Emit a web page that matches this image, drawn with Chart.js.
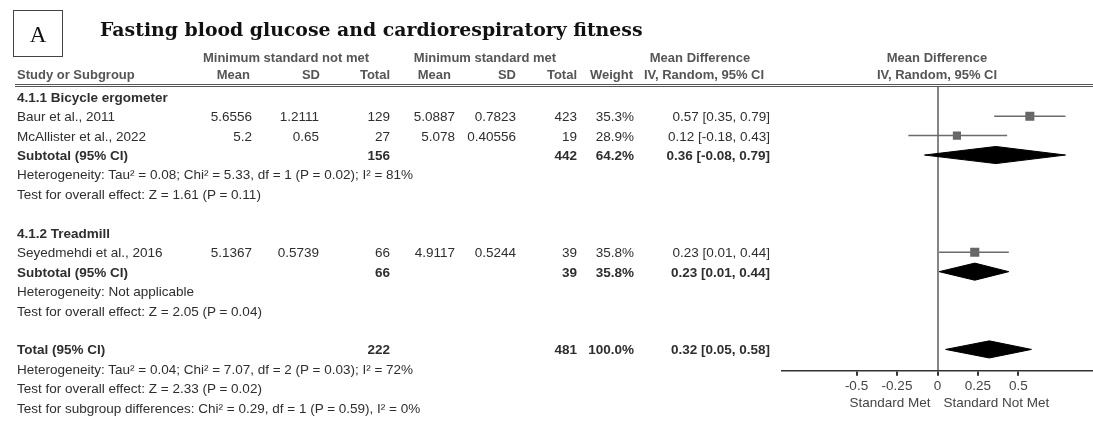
<!DOCTYPE html>
<html>
<head>
<meta charset="utf-8">
<script src="https://cdn.jsdelivr.net/npm/chart.js@4.4.0/dist/chart.umd.min.js"></script>
<style>
  html, body { margin: 0; padding: 0; background: #fff; }
  #wrap { position: relative; width: 1093px; height: 424px; overflow: hidden;
          font-family: "Liberation Sans", Arial, sans-serif; font-size: 13.5px; color: #2e2e2e; }
  #forest { position: absolute; left: 0; top: 0; }
  .t { position: absolute; white-space: nowrap; line-height: 15px; transform: translateY(-50%); }
  .r { transform: translate(-100%, -50%); }
  .c { transform: translate(-50%, -50%); }
  .b { font-weight: bold; }
  .h { font-weight: bold; color: #555; font-size: 13px; }
  #panel { position: absolute; left: 13px; top: 10px; width: 48px; height: 45px; border: 1px solid #444;
           font-family: "Liberation Serif", serif; font-size: 23px; text-align: center; line-height: 47px; color: #111; }
  #title { position: absolute; left: 100px; top: 20px; font-family: "DejaVu Serif", serif; font-weight: bold;
           white-space: nowrap; color: #111; line-height: 1; }
  #rule { position: absolute; left: 15px; right: 0; top: 84px; height: 0; border-top: 3px double #555; }
</style>
</head>
<body>
<div id="wrap">
  <canvas id="forest" width="1093" height="424"></canvas>
  <div id="panel">A</div>
  <div id="title">Fasting blood glucose and cardiorespiratory fitness</div>
  <div id="rule"></div>
</div>
<script>
// studies
const studies = ['Baur et al., 2011', 'McAllister et al., 2022', 'Seyedmehdi et al., 2016'];
const meanNotMet = [5.6556, 5.2, 5.1367];
const sdNotMet = [1.2111, 0.65, 0.5739];
const totalNotMet = [129, 27, 66];
const meanMet = [5.0887, 5.078, 4.9117];
const sdMet = [0.7823, 0.40556, 0.5244];
const totalMet = [423, 19, 39];
const weights = [35.3, 28.9, 35.8];
const md = [0.57, 0.12, 0.23];
const mdLow = [0.35, -0.18, 0.01];
const mdHigh = [0.79, 0.43, 0.44];

// subgroups and overall total
const groupNames = ['4.1.1 Bicycle ergometer', '4.1.2 Treadmill'];
const groupStudies = [[0, 1], [2]];
const pooledLabels = ['Subtotal (95% CI)', 'Subtotal (95% CI)', 'Total (95% CI)'];
const pooledNotMet = [156, 66, 222];
const pooledMet = [442, 39, 481];
const pooledWeight = [64.2, 35.8, 100.0];
const pooledMd = [0.36, 0.23, 0.32];
const pooledLow = [-0.08, 0.01, 0.05];
const pooledHigh = [0.79, 0.44, 0.58];
const hetTexts = [
    'Heterogeneity: Tau\u00b2 = 0.08; Chi\u00b2 = 5.33, df = 1 (P = 0.02); I\u00b2 = 81%',
    'Heterogeneity: Not applicable',
    'Heterogeneity: Tau\u00b2 = 0.04; Chi\u00b2 = 7.07, df = 2 (P = 0.03); I\u00b2 = 72%'
];
const effectTexts = [
    'Test for overall effect: Z = 1.61 (P = 0.11)',
    'Test for overall effect: Z = 2.05 (P = 0.04)',
    'Test for overall effect: Z = 2.33 (P = 0.02)'
];
const subgroupText = 'Test for subgroup differences: Chi\u00b2 = 0.29, df = 1 (P = 0.59), I\u00b2 = 0%';

// axis
const xTicks = [-0.5, -0.25, 0, 0.25, 0.5];
const xTickLabels = ['-0.5', '-0.25', '0', '0.25', '0.5'];
const favourLabels = ['Standard Met', 'Standard Not Met'];

// build the row list, the row index is the y value
const lines = [];
groupNames.forEach((name, g) => {
    lines.push({ kind: 'group', text: name });
    groupStudies[g].forEach(i => lines.push({ kind: 'study', i }));
    lines.push({ kind: 'pooled', p: g });
    lines.push({ kind: 'note', text: hetTexts[g] });
    lines.push({ kind: 'note', text: effectTexts[g] });
    lines.push({ kind: 'blank' });
});
lines.push({ kind: 'pooled', p: 2 });
lines.push({ kind: 'note', text: hetTexts[2] });
lines.push({ kind: 'note', text: effectTexts[2] });
lines.push({ kind: 'note', text: subgroupText });

const studyRow = [];
const pooledRow = [];
lines.forEach((l, r) => {
    if (l.kind === 'study') studyRow[l.i] = r;
    if (l.kind === 'pooled') pooledRow[l.p] = r;
});

const squareSide = w => 1.52 * Math.sqrt(w); // px, scaled by weight
const diamondHalf = 0.44; // in rows

const datasets = [];
studies.forEach((s, i) => {
    datasets.push({
        data: [{ x: mdLow[i], y: studyRow[i] }, { x: mdHigh[i], y: studyRow[i] }],
        showLine: true, borderColor: '#6b6b6b', borderWidth: 1.5, pointRadius: 0
    });
});
datasets.push({
    data: studies.map((s, i) => ({ x: md[i], y: studyRow[i] })),
    pointStyle: 'rect',
    pointRadius: ctx => squareSide(weights[ctx.dataIndex]) / Math.SQRT2,
    backgroundColor: '#666', borderWidth: 0
});
pooledLabels.forEach((s, p) => {
    const r = pooledRow[p];
    datasets.push({
        data: [
            { x: pooledLow[p], y: r }, { x: pooledMd[p], y: r - diamondHalf },
            { x: pooledHigh[p], y: r }, { x: pooledMd[p], y: r + diamondHalf },
            { x: pooledLow[p], y: r }
        ],
        showLine: true, fill: 'shape', backgroundColor: '#000', borderColor: '#000',
        borderWidth: 1, pointRadius: 0, tension: 0
    });
});

// "Standard Met | Standard Not Met" under the axis, either side of zero
const favourPlugin = {
    id: 'favour',
    afterDraw(chart) {
        const { ctx, scales: { x } } = chart;
        const x0 = x.getPixelForValue(0);
        const y = x.bottom + 7;
        ctx.save();
        ctx.font = '13.5px "Liberation Sans", Arial';
        ctx.fillStyle = '#444';
        ctx.textBaseline = 'middle';
        ctx.textAlign = 'right';
        ctx.fillText(favourLabels[0], x0 - 7, y);
        ctx.textAlign = 'left';
        ctx.fillText(favourLabels[1], x0 + 6, y);
        ctx.restore();
    }
};

const chart = new Chart(document.getElementById('forest'), {
    type: 'scatter',
    data: { datasets },
    options: {
        responsive: false,
        animation: false,
        layout: { autoPadding: false, padding: { left: 782, top: 87, right: 0, bottom: 28 } },
        plugins: { legend: { display: false }, tooltip: { enabled: false } },
        scales: {
            x: {
                type: 'linear', min: -0.96, max: 0.96,
                afterBuildTicks: scale => { scale.ticks = xTicks.map(v => ({ value: v })); },
                ticks: {
                    callback: (v, i) => xTickLabels[i],
                    color: '#444', padding: 2, autoSkip: false, maxRotation: 0,
                    font: { family: '"Liberation Sans", Arial', size: 13.5 }
                },
                grid: {
                    color: c => (c.tick && c.tick.value === 0) ? '#858585' : 'rgba(0,0,0,0)',
                    lineWidth: 2, tickColor: '#333', tickLength: 5
                },
                border: { color: '#333', width: 1.5 }
            },
            y: { type: 'linear', reverse: true, min: -0.5, max: 14.1, display: false }
        }
    },
    plugins: [favourPlugin]
});

// table text, placed on the rows of the chart's y scale
const wrap = document.getElementById('wrap');
const yScale = chart.scales.y;
const colRight = { meanNM: 252, sdNM: 319, totNM: 390, meanM: 455, sdM: 516, totM: 577, weight: 634, ci: 770 };
const addText = (text, x, y, cls) => {
    const d = document.createElement('div');
    d.className = 't ' + (cls || '');
    d.textContent = text;
    d.style.left = x + 'px';
    d.style.top = y + 'px';
    wrap.appendChild(d);
};
const ciText = (m, lo, hi) => `${m.toFixed(2)} [${lo.toFixed(2)}, ${hi.toFixed(2)}]`;

// headers
addText('Minimum standard not met', 286, 57, 'h c');
addText('Minimum standard met', 485, 57, 'h c');
addText('Mean Difference', 700, 57, 'h c');
addText('Mean Difference', 937, 57, 'h c');
addText('Study or Subgroup', 17, 74, 'h');
addText('Mean', 250, 74, 'h r');
addText('SD', 320, 74, 'h r');
addText('Total', 390, 74, 'h r');
addText('Mean', 451, 74, 'h r');
addText('SD', 516, 74, 'h r');
addText('Total', 577, 74, 'h r');
addText('Weight', 633, 74, 'h r');
addText('IV, Random, 95% CI', 704, 74, 'h c');
addText('IV, Random, 95% CI', 937, 74, 'h c');

lines.forEach((l, r) => {
    const y = yScale.getPixelForValue(r);
    if (l.kind === 'group') addText(l.text, 17, y, 'b');
    if (l.kind === 'note') addText(l.text, 17, y, '');
    if (l.kind === 'study') {
        const i = l.i;
        addText(studies[i], 17, y, '');
        addText(String(meanNotMet[i]), colRight.meanNM, y, 'r');
        addText(String(sdNotMet[i]), colRight.sdNM, y, 'r');
        addText(String(totalNotMet[i]), colRight.totNM, y, 'r');
        addText(String(meanMet[i]), colRight.meanM, y, 'r');
        addText(String(sdMet[i]), colRight.sdM, y, 'r');
        addText(String(totalMet[i]), colRight.totM, y, 'r');
        addText(weights[i].toFixed(1) + '%', colRight.weight, y, 'r');
        addText(ciText(md[i], mdLow[i], mdHigh[i]), colRight.ci, y, 'r');
    }
    if (l.kind === 'pooled') {
        const p = l.p;
        addText(pooledLabels[p], 17, y, 'b');
        addText(String(pooledNotMet[p]), colRight.totNM, y, 'b r');
        addText(String(pooledMet[p]), colRight.totM, y, 'b r');
        addText(pooledWeight[p].toFixed(1) + '%', colRight.weight, y, 'b r');
        addText(ciText(pooledMd[p], pooledLow[p], pooledHigh[p]), colRight.ci, y, 'b r');
    }
});

// fit the title to its width in the picture
const title = document.getElementById('title');
title.style.fontSize = '100px';
const fitSize = 100 * 543 / title.getBoundingClientRect().width;
title.style.fontSize = fitSize.toFixed(2) + 'px';
</script>
</body>
</html>
